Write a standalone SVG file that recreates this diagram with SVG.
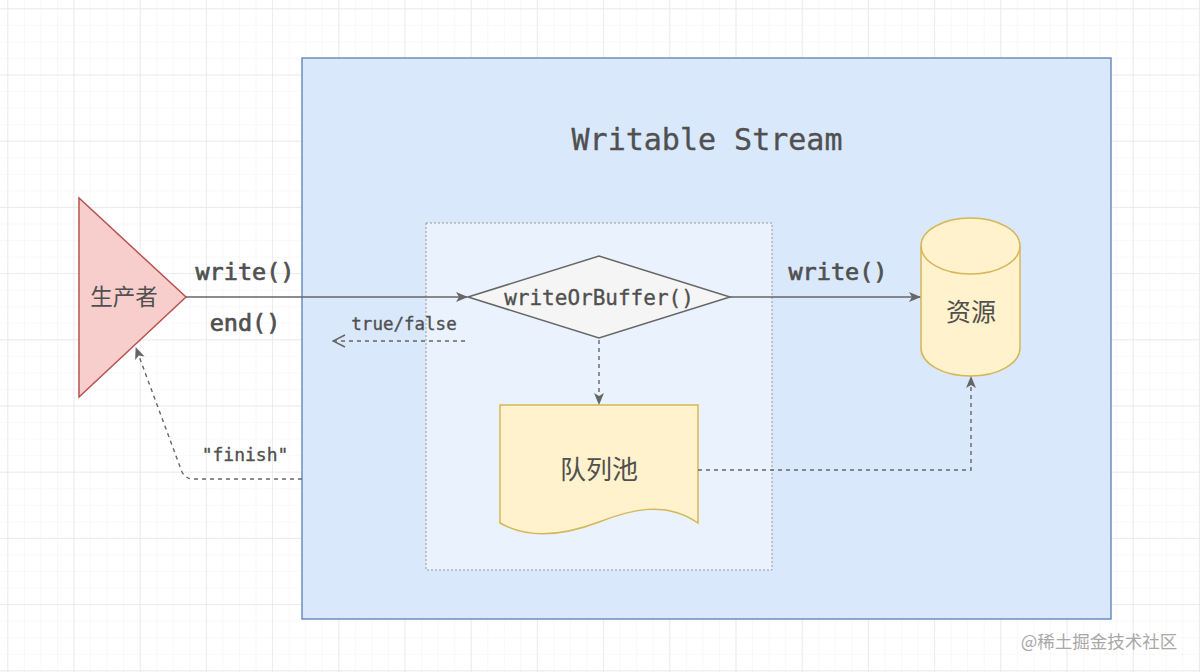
<svg xmlns="http://www.w3.org/2000/svg" width="1200" height="672" viewBox="0 0 1200 672">
<defs>
<pattern id="minor" x="7.3" y="8.3" width="16.55" height="16.55" patternUnits="userSpaceOnUse">
<path d="M0,0 H16.55 M0,0 V16.55" fill="none" stroke="#f3f3f3" stroke-width="1.2"/>
</pattern>
<pattern id="major" x="7.3" y="8.3" width="66.2" height="66.2" patternUnits="userSpaceOnUse">
<path d="M0,0 H66.2 M0,0 V66.2" fill="none" stroke="#e8e8e8" stroke-width="1.5"/>
</pattern>
<marker id="solid" viewBox="0 0 12 12" refX="11" refY="6" markerWidth="12" markerHeight="12" markerUnits="userSpaceOnUse" orient="auto">
<path d="M0,1 L12,6 L0,11 L3,6 Z" fill="#666"/>
</marker>
<marker id="open" viewBox="0 0 14 14" refX="13" refY="7" markerWidth="14" markerHeight="14" markerUnits="userSpaceOnUse" orient="auto">
<path d="M1,1 L13,7 L1,13" fill="none" stroke="#666" stroke-width="1.5"/>
</marker>
<style>
.mono{font-family:"DejaVu Sans Mono","Liberation Mono",monospace;fill:#505050;stroke:#505050;stroke-width:0.35;}
.b{stroke-width:0.7;}
.cjk{font-family:"Noto Sans CJK SC","Noto Sans",sans-serif;fill:#505050;}
.edge{fill:none;stroke:#666;stroke-width:1.6;}
.dash{fill:none;stroke:#666;stroke-width:1.4;stroke-dasharray:4 4;}
</style>
</defs>
<rect width="1200" height="672" fill="#ffffff"/>
<rect width="1200" height="672" fill="url(#minor)"/>
<rect width="1200" height="672" fill="url(#major)"/>

<g id="writable-stream">
<rect x="302" y="58" width="809" height="561" fill="#dae8fc" stroke="#6c8ebf" stroke-width="1.5"/>
<text class="mono" x="707" y="150" font-size="30" text-anchor="middle">Writable Stream</text>
</g>

<g id="inner-box">
<rect x="426" y="223" width="346" height="347" fill="#eaf2fd" stroke="#999" stroke-width="1" stroke-dasharray="2 2"/>
</g>

<g id="producer">
<polygon points="79,198 79,397 186,297" fill="#f8cecc" stroke="#b85450" stroke-width="1.5"/>
<text class="cjk" x="124" y="305" font-size="22.5" text-anchor="middle">生产者</text>
</g>

<g id="writeOrBuffer">
<polygon points="468,297 599,256 730,297 599,338" fill="#f5f5f5" stroke="#666" stroke-width="1.5"/>
<text class="mono" x="599" y="305" font-size="21" text-anchor="middle">writeOrBuffer()</text>
</g>

<g id="queue">
<path d="M500,405 H698 V523 C665,500 630,510 599,522 C565,535 530,540 500,523 Z" fill="#fff2cc" stroke="#d6b656" stroke-width="1.5"/>
<text class="cjk" x="599" y="479" font-size="26" text-anchor="middle">队列池</text>
</g>

<g id="resource">
<path d="M921,246 A49.5,28 0 0 1 1020,246 V348 A49.5,28 0 0 1 921,348 Z" fill="#fff2cc" stroke="#d6b656" stroke-width="1.5"/>
<path d="M921,246 A49.5,28 0 0 0 1020,246" fill="none" stroke="#d6b656" stroke-width="1.5"/>
<text class="cjk" x="971" y="321" font-size="25" text-anchor="middle">资源</text>
</g>

<g id="connectors">
<line class="edge" x1="186" y1="297" x2="467" y2="297" marker-end="url(#solid)"/>
<text class="mono b" x="245" y="280" font-size="23.5" text-anchor="middle">write()</text>
<text class="mono b" x="245" y="331" font-size="23.5" text-anchor="middle">end()</text>
<line class="edge" x1="730" y1="297" x2="920" y2="297" marker-end="url(#solid)"/>
<text class="mono b" x="838" y="280" font-size="23.5" text-anchor="middle">write()</text>
<line class="dash" x1="465" y1="341" x2="333" y2="341" marker-end="url(#open)"/>
<text class="mono" x="404" y="330" font-size="17.5" text-anchor="middle">true/false</text>
<line class="dash" x1="599" y1="340" x2="599" y2="404" marker-end="url(#solid)"/>
<polyline class="dash" points="698,470 971,470 971,377" marker-end="url(#solid)"/>
<path class="dash" d="M302,479 H193 Q186,479 182,472 L136,348" marker-end="url(#solid)"/>
<text class="mono" x="245" y="461" font-size="18" text-anchor="middle">"finish"</text>
</g>

<text x="1099" y="648" font-family="Noto Sans CJK SC, Noto Sans, sans-serif" font-size="17.5" fill="#a8a8a8" text-anchor="middle">@稀土掘金技术社区</text>
</svg>
